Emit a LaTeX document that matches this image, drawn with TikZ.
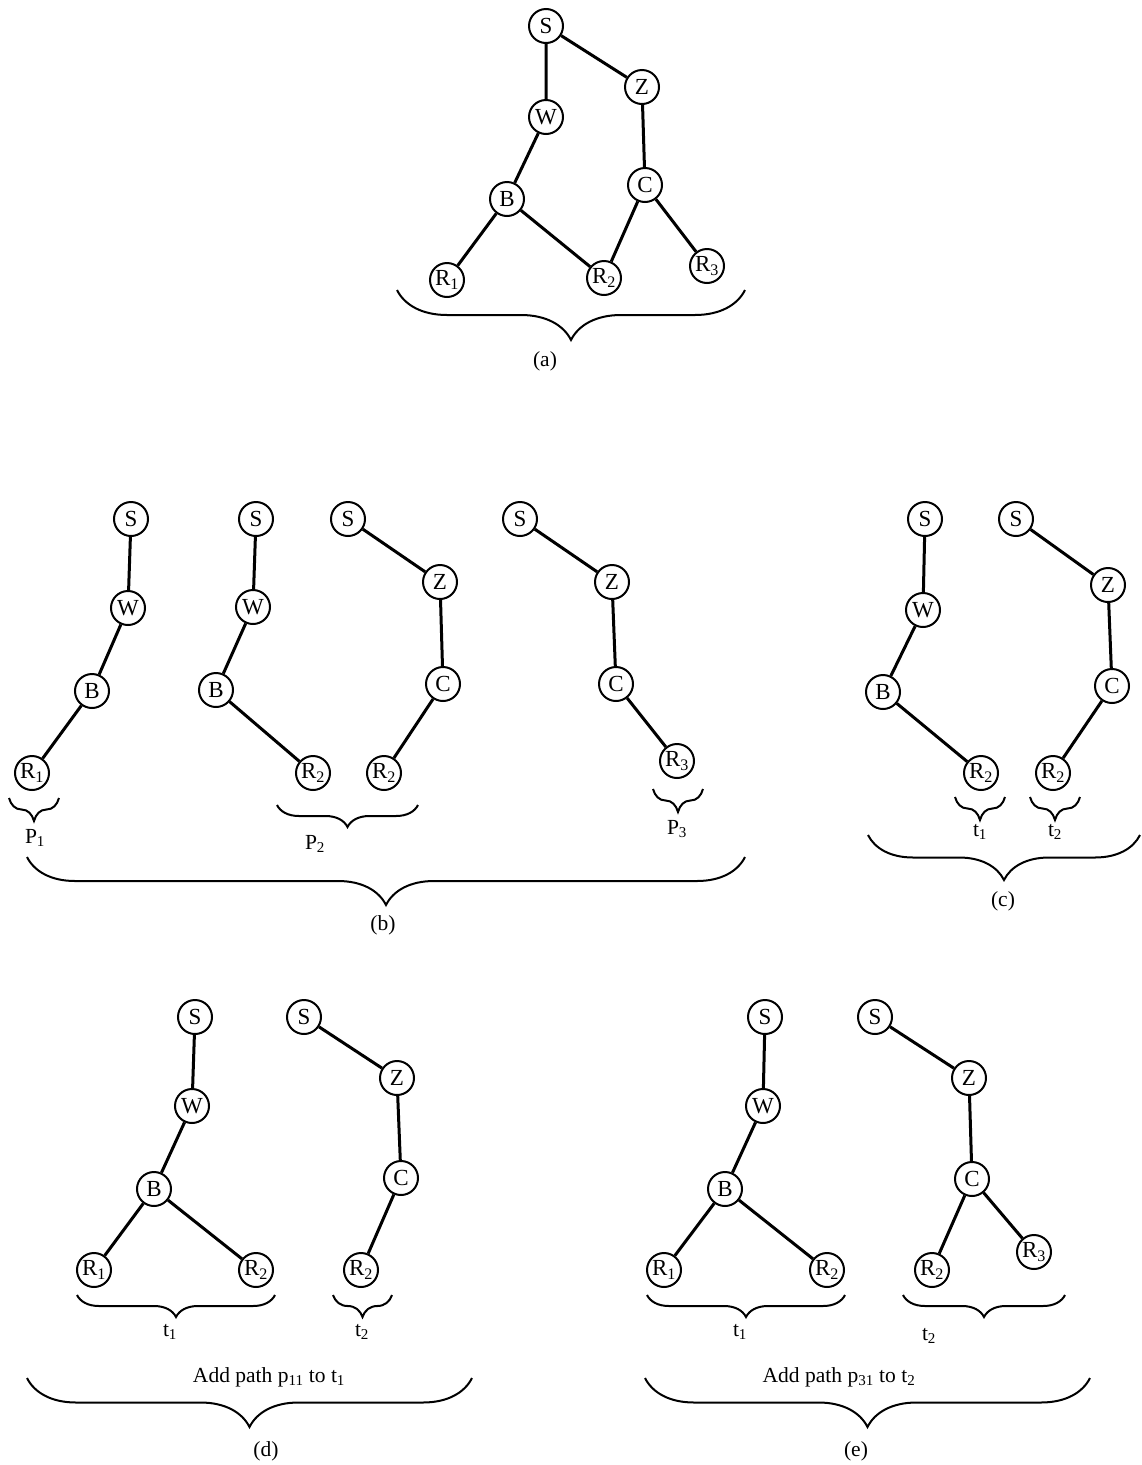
\documentclass[tikz,border=0pt]{standalone}
\usepackage{fontspec}
\setmainfont{Liberation Serif}
\usetikzlibrary{decorations.pathreplacing}
\begin{document}
\begin{tikzpicture}[x=1pt,y=-1pt,
  v/.style={circle,draw,line width=2pt,minimum size=34pt,inner sep=0pt,font=\fontsize{23}{23}\selectfont},
  e/.style={line width=3pt},
  lab/.style={font=\fontsize{21.5}{21.5}\selectfont,inner sep=0pt},
  brc/.style={decorate,decoration={brace,mirror,amplitude=#1},line width=2pt}]
\useasboundingbox (0,0) rectangle (1142,1465);
\newcommand{\Ra}{R\textsubscript{1}}
\newcommand{\Rb}{R\textsubscript{2}}
\newcommand{\Rc}{R\textsubscript{3}}
% ---------- (a)
\node[v] (aS) at (546,26) {S};
\node[v] (aZ) at (642,87) {Z};
\node[v] (aW) at (546,117) {W};
\node[v] (aB) at (507,199) {B};
\node[v] (aC) at (645,185) {C};
\node[v] (aR1) at (447,280) {\Ra};
\node[v] (aR2) at (604,278) {\Rb};
\node[v] (aR3) at (707,266) {\Rc};
\draw[e] (aS)--(aW) (aW)--(aB) (aB)--(aR1) (aB)--(aR2) (aS)--(aZ) (aZ)--(aC) (aC)--(aR2) (aC)--(aR3);
\coordinate (abl) at (397,290); \coordinate (abr) at (745,290);
\draw[brc=50pt] (abl)--(abr);
\node[lab] (alab) at (545,361) {(a)};
% ---------- (b)
\node[v] (b1S) at (131,519) {S};
\node[v] (b1W) at (128,608) {W};
\node[v] (b1B) at (92,691) {B};
\node[v] (b1R) at (32,773) {\Ra};
\draw[e] (b1S)--(b1W) (b1W)--(b1B) (b1B)--(b1R);
\node[v] (b2S) at (256,519) {S};
\node[v] (b2W) at (253,607) {W};
\node[v] (b2B) at (216,690) {B};
\node[v] (b2R) at (313,773) {\Rb};
\draw[e] (b2S)--(b2W) (b2W)--(b2B) (b2B)--(b2R);
\node[v] (b3S) at (348,519) {S};
\node[v] (b3Z) at (440,582) {Z};
\node[v] (b3C) at (443,684) {C};
\node[v] (b3R) at (384,773) {\Rb};
\draw[e] (b3S)--(b3Z) (b3Z)--(b3C) (b3C)--(b3R);
\node[v] (b4S) at (520,519) {S};
\node[v] (b4Z) at (612,582) {Z};
\node[v] (b4C) at (616,684) {C};
\node[v] (b4R) at (677,761) {\Rc};
\draw[e] (b4S)--(b4Z) (b4Z)--(b4C) (b4C)--(b4R);
\coordinate (p1l) at (9,798); \coordinate (p1r) at (59,798);
\draw[brc=23pt] (p1l)--(p1r);
\node[lab] (p1lab) at (35,838) {P\textsubscript{1}};
\coordinate (p2l) at (277,805); \coordinate (p2r) at (418,805);
\draw[brc=22pt] (p2l)--(p2r);
\node[lab] (p2lab) at (315,844) {P\textsubscript{2}};
\coordinate (p3l) at (653,789); \coordinate (p3r) at (703,789);
\draw[brc=23pt] (p3l)--(p3r);
\node[lab] (p3lab) at (677,829) {P\textsubscript{3}};
\coordinate (bbl) at (27,857); \coordinate (bbr) at (745,857);
\draw[brc=48pt] (bbl)--(bbr);
\node[lab] (blab) at (383,925) {(b)};
% ---------- (c)
\node[v] (c1S) at (925,519) {S};
\node[v] (c1W) at (923,610) {W};
\node[v] (c1B) at (883,692) {B};
\node[v] (c1R) at (981,773) {\Rb};
\draw[e] (c1S)--(c1W) (c1W)--(c1B) (c1B)--(c1R);
\node[v] (c2S) at (1016,519) {S};
\node[v] (c2Z) at (1108,585) {Z};
\node[v] (c2C) at (1112,686) {C};
\node[v] (c2R) at (1053,773) {\Rb};
\draw[e] (c2S)--(c2Z) (c2Z)--(c2C) (c2C)--(c2R);
\coordinate (ct1l) at (955,797); \coordinate (ct1r) at (1005,797);
\draw[brc=23pt] (ct1l)--(ct1r);
\node[lab] (ct1lab) at (980,832) {t\textsubscript{1}};
\coordinate (ct2l) at (1030,797); \coordinate (ct2r) at (1080,797);
\draw[brc=23pt] (ct2l)--(ct2r);
\node[lab] (ct2lab) at (1055,832) {t\textsubscript{2}};
\coordinate (cbl) at (868,835); \coordinate (cbr) at (1140,835);
\draw[brc=45pt] (cbl)--(cbr);
\node[lab] (clab) at (1003,901) {(c)};
% ---------- (d)
\node[v] (d1S) at (195,1017) {S};
\node[v] (d1W) at (192,1106) {W};
\node[v] (d1B) at (154,1189) {B};
\node[v] (d1R1) at (94,1270) {\Ra};
\node[v] (d1R2) at (256,1270) {\Rb};
\draw[e] (d1S)--(d1W) (d1W)--(d1B) (d1B)--(d1R1) (d1B)--(d1R2);
\node[v] (d2S) at (304,1017) {S};
\node[v] (d2Z) at (397,1078) {Z};
\node[v] (d2C) at (401,1178) {C};
\node[v] (d2R) at (361,1270) {\Rb};
\draw[e] (d2S)--(d2Z) (d2Z)--(d2C) (d2C)--(d2R);
\coordinate (dt1l) at (77,1295); \coordinate (dt1r) at (275,1295);
\draw[brc=22pt] (dt1l)--(dt1r);
\node[lab] (dt1lab) at (170,1332) {t\textsubscript{1}};
\coordinate (dt2l) at (333,1295); \coordinate (dt2r) at (392,1295);
\draw[brc=22pt] (dt2l)--(dt2r);
\node[lab] (dt2lab) at (362,1332) {t\textsubscript{2}};
\node[lab] (dadd) at (269,1377) {Add path p\textsubscript{11} to t\textsubscript{1}};
\coordinate (dbl) at (27,1378); \coordinate (dbr) at (472,1378);
\draw[brc=49pt] (dbl)--(dbr);
\node[lab] (dlab) at (266,1451) {(d)};
% ---------- (e)
\node[v] (e1S) at (765,1017) {S};
\node[v] (e1W) at (763,1106) {W};
\node[v] (e1B) at (725,1189) {B};
\node[v] (e1R1) at (664,1270) {\Ra};
\node[v] (e1R2) at (827,1270) {\Rb};
\draw[e] (e1S)--(e1W) (e1W)--(e1B) (e1B)--(e1R1) (e1B)--(e1R2);
\node[v] (e2S) at (875,1017) {S};
\node[v] (e2Z) at (969,1078) {Z};
\node[v] (e2C) at (972,1179) {C};
\node[v] (e2R2) at (932,1270) {\Rb};
\node[v] (e2R3) at (1034,1252) {\Rc};
\draw[e] (e2S)--(e2Z) (e2Z)--(e2C) (e2C)--(e2R2) (e2C)--(e2R3);
\coordinate (et1l) at (647,1295); \coordinate (et1r) at (845,1295);
\draw[brc=22pt] (et1l)--(et1r);
\node[lab] (et1lab) at (740,1332) {t\textsubscript{1}};
\coordinate (et2l) at (903,1295); \coordinate (et2r) at (1065,1295);
\draw[brc=22pt] (et2l)--(et2r);
\node[lab] (et2lab) at (929,1336) {t\textsubscript{2}};
\node[lab] (eadd) at (839,1377) {Add path p\textsubscript{31} to t\textsubscript{2}};
\coordinate (ebl) at (645,1378); \coordinate (ebr) at (1090,1378);
\draw[brc=49pt] (ebl)--(ebr);
\node[lab] (elab) at (856,1451) {(e)};
\end{tikzpicture}
\end{document}
